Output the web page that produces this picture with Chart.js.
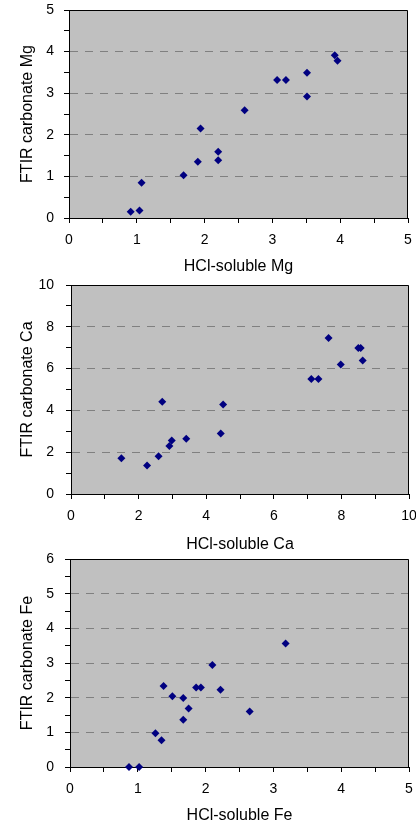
<!DOCTYPE html>
<html>
<head>
<meta charset="utf-8">
<script src="https://cdn.jsdelivr.net/npm/chart.js@4.4.1/dist/chart.umd.min.js"></script>
<style>
  html, body { margin: 0; padding: 0; background: #fff; }
  body { width: 416px; height: 825px; position: relative; overflow: hidden; }
  canvas { position: absolute; left: 0; }
</style>
</head>
<body>
<canvas id="mgChart" width="416" height="276" style="top:0px"></canvas>
<canvas id="caChart" width="416" height="279" style="top:275px"></canvas>
<canvas id="feChart" width="416" height="275" style="top:550px"></canvas>
<script>
// Mg
const mgHcl = [0.91, 1.04, 1.07, 1.69, 1.90, 1.94, 2.20, 2.20, 2.59, 3.07, 3.20, 3.51, 3.51, 3.92, 3.96];
const mgFtir = [0.15, 0.18, 0.85, 1.03, 1.35, 2.15, 1.59, 1.39, 2.59, 3.32, 3.32, 3.49, 2.92, 3.91, 3.78];

// Ca
const caHcl = [1.49, 2.25, 2.59, 2.70, 2.91, 2.98, 3.41, 4.43, 4.50, 7.11, 7.32, 7.62, 7.98, 8.50, 8.57, 8.63];
const caFtir = [1.71, 1.36, 1.81, 4.41, 2.30, 2.56, 2.64, 2.89, 4.28, 5.50, 5.50, 7.46, 6.20, 6.98, 6.98, 6.39];

// Fe
const feHcl = [0.87, 1.02, 1.26, 1.35, 1.38, 1.51, 1.67, 1.67, 1.75, 1.86, 1.93, 2.10, 2.22, 2.65, 3.18];
const feFtir = [0, 0, 0.97, 0.77, 2.34, 2.04, 1.99, 1.36, 1.69, 2.29, 2.29, 2.94, 2.23, 1.60, 3.56];

// assen: [max, stap tussen labels]
const mgAxis = [5, 1];
const caAxis = [10, 2];
const feAxisX = [5, 1];
const feAxisY = [6, 1];

const tickFont = { family: "'Liberation Sans', Arial, sans-serif", size: 14 };
const titleFont = { family: "'Liberation Sans', Arial, sans-serif", size: 16 };

function isMajor(v, major) {
  const r = v / major;
  return Math.abs(r - Math.round(r)) < 1e-6;
}

// grijze achtergrond + kader van het plotvlak
const plotFrame = {
  id: "plotFrame",
  beforeDraw(chart) {
    const { ctx, chartArea: a } = chart;
    ctx.save();
    ctx.fillStyle = "#C0C0C0";
    ctx.fillRect(a.left, a.top, a.right - a.left, a.bottom - a.top);
    ctx.restore();
  },
  afterDraw(chart) {
    const { ctx, chartArea: a } = chart;
    ctx.save();
    ctx.strokeStyle = "#000";
    ctx.lineWidth = 1;
    ctx.beginPath();
    ctx.moveTo(Math.round(a.left), Math.round(a.top) + 0.5);
    ctx.lineTo(Math.round(a.right) - 0.5, Math.round(a.top) + 0.5);
    ctx.lineTo(Math.round(a.right) - 0.5, Math.round(a.bottom));
    ctx.stroke();
    ctx.restore();
  },
};

function axis(max, major, title, isX, p) {
  return {
    type: "linear",
    min: 0,
    max: max,
    afterBuildTicks: (s) => {
      s.ticks = [];
      for (let v = 0; v <= max + 1e-9; v += major / 2) s.ticks.push({ value: +v.toFixed(4) });
    },
    afterFit: (s) => {
      if (isX) s.height = p.height - p.bottom;
      else s.width = p.left;
      s.paddingLeft = 0;
      s.paddingRight = 0;
      s.paddingTop = 0;
      s.paddingBottom = 0;
    },
    grid: {
      // alleen horizontale stippellijnen
      color: (c) => {
        if (isX || !c.tick) return "rgba(0,0,0,0)";
        const v = c.tick.value;
        return isMajor(v, major) && v > 0 && v < max ? "#808080" : "rgba(0,0,0,0)";
      },
      lineWidth: 1,
      tickLength: 5,
      tickColor: "#000",
    },
    border: { display: true, color: "#000", width: 1, dash: [8, 7] },
    ticks: {
      autoSkip: false,
      maxRotation: 0,
      color: "#000",
      font: tickFont,
      padding: isX ? 9 : p.yPad,
      callback: (v) => (isMajor(v, major) ? String(Math.round(v)) : ""),
    },
    title: {
      display: true,
      text: title,
      color: "#000",
      font: titleFont,
      padding: isX ? { top: 0, bottom: 0 } : { top: 18, bottom: 0 },
    },
  };
}

function makePanel(id, xs, ys, xAxis, yAxis, xTitle, yTitle, p) {
  const points = xs.map((x, i) => ({ x: x, y: ys[i] }));
  return new Chart(document.getElementById(id), {
    type: "scatter",
    data: {
      datasets: [
        {
          data: points,
          pointStyle: "rectRot",
          pointRadius: 4,
          backgroundColor: "#000080",
          borderColor: "#000080",
          borderWidth: 0,
          clip: false,
        },
      ],
    },
    options: {
      responsive: false,
      maintainAspectRatio: false,
      animation: false,
      events: [],
      layout: { padding: { top: p.top, right: p.right, left: 0, bottom: 0 } },
      scales: {
        x: axis(xAxis[0], xAxis[1], xTitle, true, p),
        y: axis(yAxis[0], yAxis[1], yTitle, false, p),
      },
      plugins: {
        legend: { display: false },
        tooltip: { enabled: false },
      },
    },
    plugins: [plotFrame],
  });
}

makePanel("mgChart", mgHcl, mgFtir, mgAxis, mgAxis, "HCl-soluble Mg", "FTIR carbonate Mg",
  { top: 10, right: 8, left: 69, bottom: 218, height: 276, yPad: 10 });
makePanel("caChart", caHcl, caFtir, caAxis, caAxis, "HCl-soluble Ca", "FTIR carbonate Ca",
  { top: 10, right: 7, left: 71, bottom: 219, height: 279, yPad: 12 });
makePanel("feChart", feHcl, feFtir, feAxisX, feAxisY, "HCl-soluble Fe", "FTIR carbonate Fe",
  { top: 9, right: 7, left: 70, bottom: 217, height: 275, yPad: 11 });
</script>
</body>
</html>
